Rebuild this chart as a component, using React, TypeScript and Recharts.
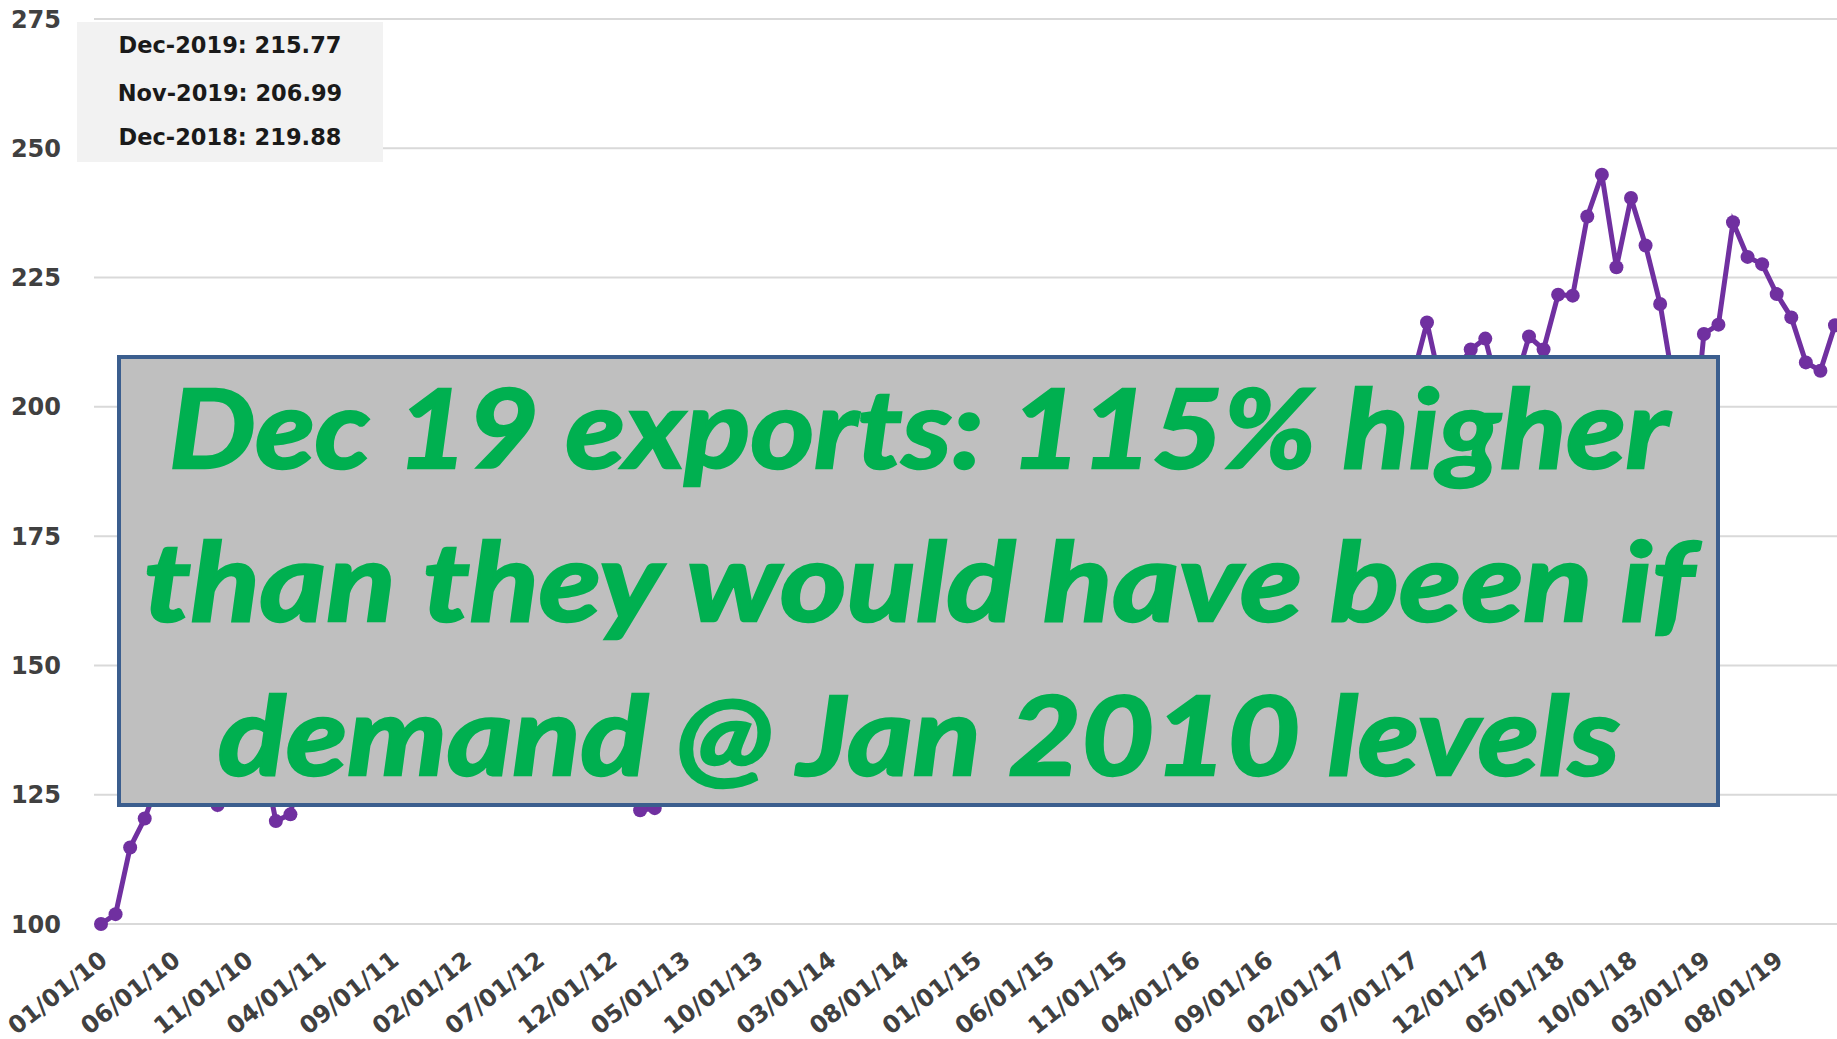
import React from "react";
import { CartesianGrid, Line, LineChart, XAxis, YAxis } from "recharts";

// monthly observations, Jan 2010 .. Dec 2019
const YEARS = ["10", "11", "12", "13", "14", "15", "16", "17", "18", "19"];
const MONTHS = ["01", "02", "03", "04", "05", "06", "07", "08", "09", "10", "11", "12"];
const dates: string[] = YEARS.flatMap((yy) => MONTHS.map((mm) => `${mm}/01/${yy}`));

// export index (Jan 2010 = 100); values hidden behind the callout are estimates
const exportIndex = [
    100, 101.9, 114.8, 120.4, 128, 131, 127, 133, 123, 130, 136, 134, // 2010
    119.9, 121.2, 135, 138, 141, 137, 144, 146, 140, 147, 150, 145, // 2011
    139, 148, 152, 149, 155, 151, 146, 150, 143, 137, 140, 131, // 2012
    128, 122, 122.4, 134, 141, 147, 152, 156, 150, 158, 161, 155, // 2013
    152, 160, 165, 162, 168, 164, 170, 166, 172, 169, 163, 158, // 2014
    150, 156, 162, 158, 165, 169, 163, 167, 171, 166, 160, 155, // 2015
    152, 158, 166, 170, 174, 171, 178, 182, 176, 180, 186, 179, // 2016
    175, 183, 189, 185, 192, 196, 205.5, 216.3, 203.5, 207, 211.1, 213.2, // 2017
    202, 204, 213.6, 211.1, 221.7, 221.5, 236.8, 244.9, 227, 240.4, 231.2, 219.88, // 2018
    203, 185, 214.1, 215.9, 235.7, 229, 227.6, 221.8, 217.3, 208.6, 206.99, 215.77, // 2019
];

const Y_TICKS = [100, 125, 150, 175, 200, 225, 250, 275];

const TABLE_ROWS = ["Dec-2019: 215.77", "Nov-2019: 206.99", "Dec-2018: 219.88"];

const CALLOUT_LINES = [
    "Dec 19 exports: 115% higher",
    "than they would have been if",
    "demand @ Jan 2010 levels",
];

const PURPLE = "#7030A0";
const GRID = "#D9D9D9";
const LABEL = "#404040";
const GREEN = "#00B050";
const FONT = "'DejaVu Sans', sans-serif";

const data = dates.map((d, i) => ({ date: d, value: exportIndex[i] }));

const DateTick = ({ x, y, payload }: any) => {
    const tx = x + 8;
    const ty = y + 39;
    return (
        <text
            x={tx}
            y={ty}
            transform={`rotate(-38, ${tx}, ${ty})`}
            textAnchor="end"
            fontFamily={FONT}
            fontWeight="bold"
            fontSize={24}
            fill={LABEL}
        >
            {payload.value}
        </text>
    );
};

export default function App() {
    return (
        <div
            style={{
                position: "absolute",
                left: 0,
                top: 0,
                width: 1837,
                height: 1039,
                background: "#fff",
                overflow: "hidden",
            }}
        >
            <LineChart width={1837} height={1039} data={data} margin={{ top: 19, right: 0, left: 0, bottom: 0 }}>
                <CartesianGrid vertical={false} stroke={GRID} strokeWidth={2} />
                <XAxis
                    dataKey="date"
                    interval={4}
                    tickLine={false}
                    axisLine={false}
                    tickSize={0}
                    tickMargin={0}
                    height={115}
                    padding={{ left: 7, right: 2 }}
                    tick={<DateTick />}
                />
                <YAxis
                    type="number"
                    domain={[100, 275]}
                    ticks={Y_TICKS}
                    tickLine={false}
                    axisLine={false}
                    tickSize={0}
                    tickMargin={33}
                    width={94}
                    tick={{ fontSize: 24, fontFamily: FONT, fontWeight: 700, fill: LABEL }}
                />
                <Line
                    type="linear"
                    dataKey="value"
                    stroke={PURPLE}
                    strokeWidth={5}
                    dot={{ r: 7, fill: PURPLE, stroke: PURPLE, strokeWidth: 0 }}
                    activeDot={false}
                    isAnimationActive={false}
                />
            </LineChart>

            {/* data table box, top left */}
            <div
                style={{
                    position: "absolute",
                    left: 77,
                    top: 22,
                    width: 306,
                    height: 140,
                    background: "#F2F2F2",
                    fontFamily: FONT,
                    fontWeight: 700,
                    fontSize: 22.5,
                    color: "#1a1a1a",
                }}
            >
                {TABLE_ROWS.map((row, i) => (
                    <div
                        key={row}
                        style={{
                            position: "absolute",
                            left: 0,
                            width: 306,
                            top: [23, 70.5, 114.5][i] - 14,
                            textAlign: "center",
                            lineHeight: "28px",
                            whiteSpace: "nowrap",
                        }}
                    >
                        {row}
                    </div>
                ))}
            </div>

            {/* callout */}
            <svg
                width={1837}
                height={1039}
                style={{ position: "absolute", left: 0, top: 0, pointerEvents: "none" }}
            >
                <rect x={119} y={357} width={1599} height={448} fill="#BFBFBF" stroke="#3B5E8E" strokeWidth={4} />
                {CALLOUT_LINES.map((line, i) => (
                    <text
                        key={line}
                        x={919}
                        y={[468, 621, 775][i]}
                        textAnchor="middle"
                        fontFamily="Lato, 'Open Sans', sans-serif"
                        fontWeight="bold"
                        fontStyle="italic"
                        fontSize={110}
                        fill={GREEN}
                        stroke={GREEN}
                        strokeWidth={2.5}
                        textLength={[1500, 1550, 1402][i]}
                        lengthAdjust="spacingAndGlyphs"
                    >
                        {line}
                    </text>
                ))}
            </svg>
        </div>
    );
}
